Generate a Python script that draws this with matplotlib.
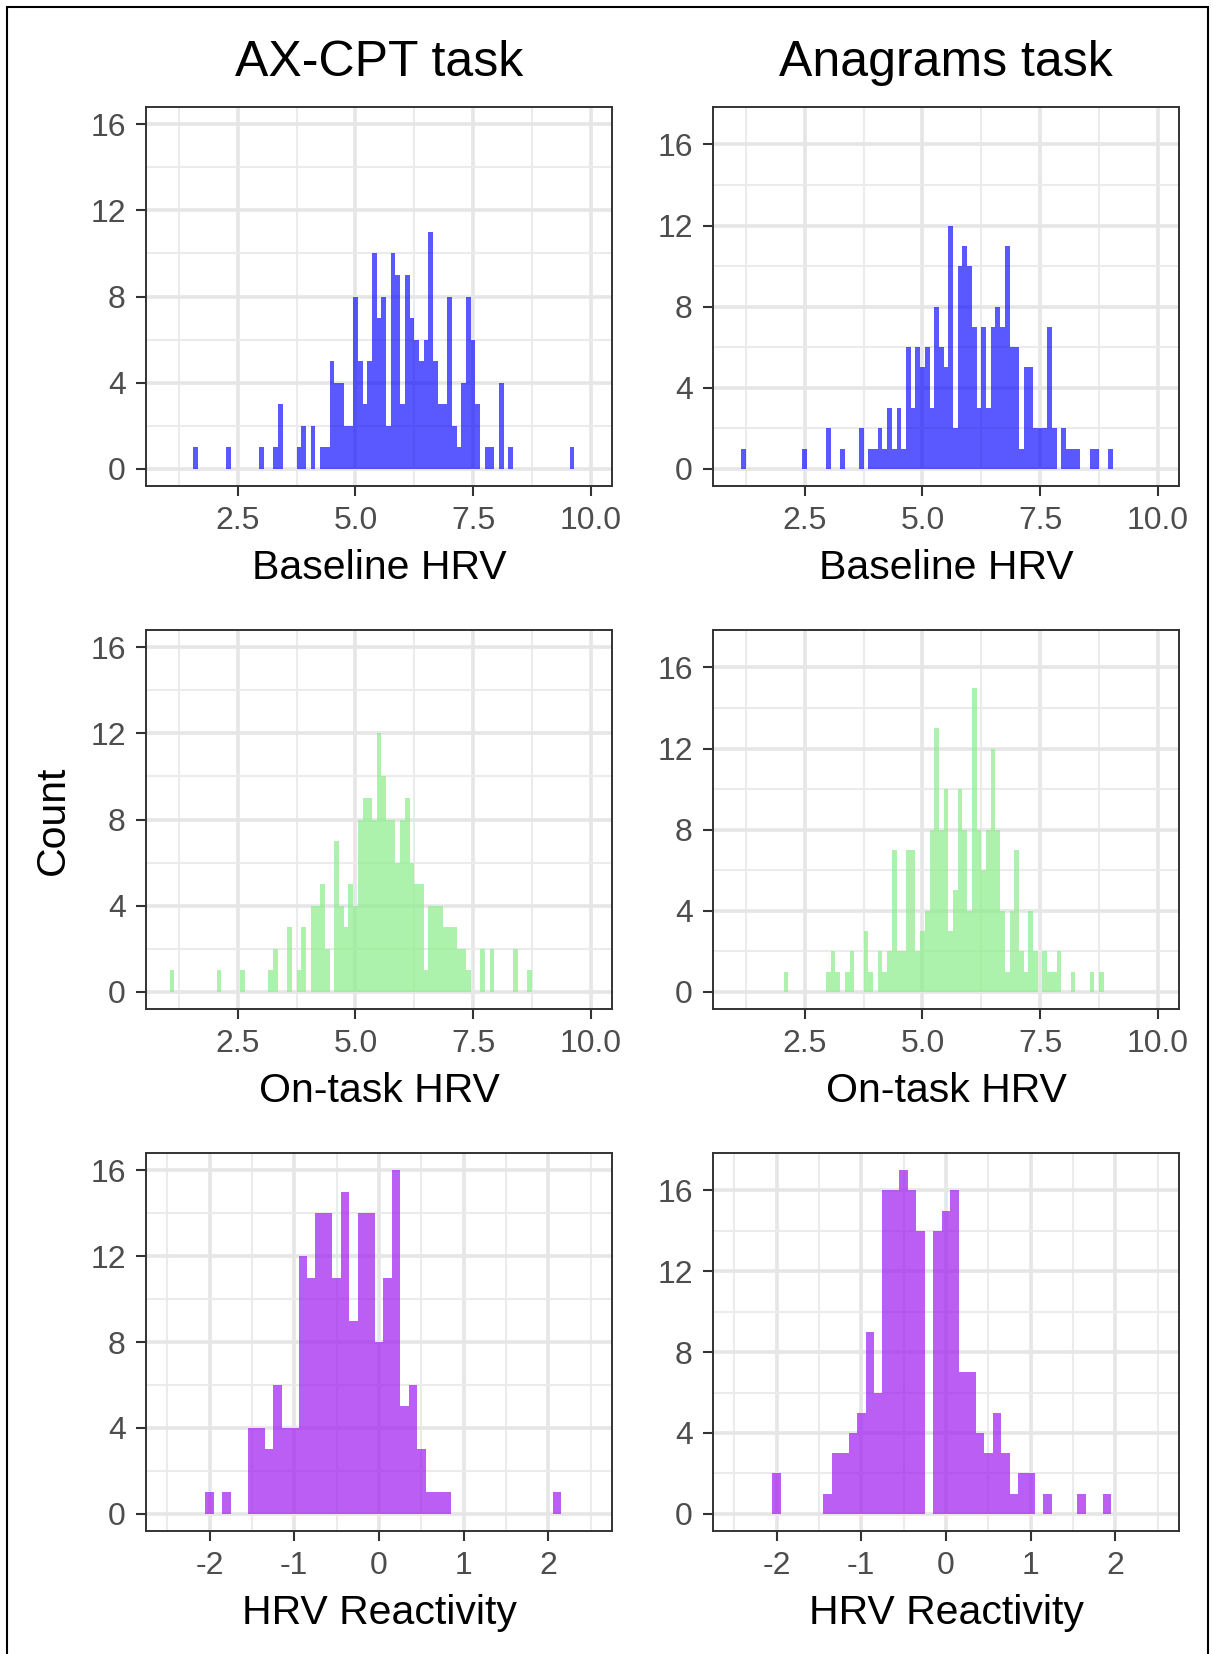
import numpy as np
import matplotlib
matplotlib.use("Agg")
import matplotlib.pyplot as plt
from matplotlib.patches import Rectangle
from matplotlib.ticker import MultipleLocator

plt.rcParams['font.family'] = ['Liberation Sans', 'DejaVu Sans']

# histogram counts, binwidth 0.1, first value = count of the bin centred on *_start
ax_base_start = 1.6
ax_base_counts = [1, 0, 0, 0, 0, 0, 0, 1, 0, 0, 0, 0, 0, 0, 1, 0, 0, 1, 3, 0,
                  0, 0, 1, 2, 0, 2, 0, 1, 1, 5, 4, 4, 2, 2, 8, 5, 3, 5, 10, 7,
                  8, 2, 10, 9, 3, 9, 7, 6, 5, 6, 11, 5, 3, 3, 8, 2, 1, 4, 8, 6,
                  3, 0, 1, 1, 0, 4, 0, 1, 0, 0, 0, 0, 0, 0, 0, 0, 0, 0, 0, 0, 1]

an_base_start = 1.2
an_base_counts = [1, 0, 0, 0, 0, 0, 0, 0, 0, 0, 0, 0, 0, 1, 0, 0, 0, 0, 2, 0,
                  0, 1, 0, 0, 0, 2, 0, 1, 1, 2, 1, 3, 1, 3, 1, 6, 3, 6, 5, 6,
                  3, 8, 6, 5, 12, 2, 10, 11, 10, 7, 3, 7, 3, 7, 8, 7, 11, 6, 6, 1,
                  5, 5, 2, 2, 2, 7, 2, 0, 2, 1, 1, 1, 0, 0, 1, 1, 0, 0, 1]

ax_task_start = 1.1
ax_task_counts = [1, 0, 0, 0, 0, 0, 0, 0, 0, 0, 1, 0, 0, 0, 0, 1, 0, 0, 0, 0,
                  0, 1, 2, 0, 0, 3, 0, 1, 3, 0, 4, 4, 5, 2, 0, 7, 4, 3, 5, 4,
                  8, 9, 9, 8, 12, 10, 8, 8, 6, 8, 9, 6, 5, 5, 1, 4, 4, 4, 3, 3,
                  3, 2, 2, 1, 0, 0, 2, 0, 2, 0, 0, 0, 0, 2, 0, 0, 1]

an_task_start = 2.1
an_task_counts = [1, 0, 0, 0, 0, 0, 0, 0, 0, 1, 2, 1, 0, 1, 2, 0, 0, 3, 1, 0,
                  2, 1, 2, 7, 2, 2, 7, 7, 2, 3, 4, 8, 13, 8, 10, 3, 5, 10, 8, 4,
                  15, 8, 6, 8, 12, 8, 4, 1, 4, 7, 2, 1, 4, 2, 0, 2, 1, 1, 2, 0,
                  0, 1, 0, 0, 0, 1, 0, 1]

ax_react_start = -2.0
ax_react_counts = [1, 0, 1, 0, 0, 4, 4, 3, 6, 4, 4, 12, 11, 14, 14, 11, 15, 9, 14, 14,
                   8, 11, 16, 5, 6, 3, 1, 1, 1, 0, 0, 0, 0, 0, 0, 0, 0, 0, 0, 0,
                   0, 1]

an_react_start = -2.0
an_react_counts = [2, 0, 0, 0, 0, 0, 1, 3, 3, 4, 5, 9, 6, 16, 16, 17, 16, 14, 0, 14,
                   15, 16, 7, 7, 4, 3, 5, 3, 1, 2, 2, 0, 1, 0, 0, 0, 1, 0, 0, 1]

col_titles = ['AX-CPT task', 'Anagrams task']
row_labels = ['Baseline HRV', 'On-task HRV', 'HRV Reactivity']
y_ticks = [0, 4, 8, 12, 16]
hrv_ticks = [2.5, 5.0, 7.5, 10.0]
react_ticks = [-2, -1, 0, 1, 2]

W, H = 1213, 1654
fig = plt.figure(figsize=(W / 100, H / 100), dpi=100)
fig.patch.set_facecolor('white')

col_x = [146, 713]
col_w = 466
row_y = [(107, 486), (630, 1009), (1153, 1531)]

panels = [
    [(ax_base_start, ax_base_counts, 'blue', 0.65),
     (an_base_start, an_base_counts, 'blue', 0.65)],
    [(ax_task_start, ax_task_counts, '#90EE90', 0.75),
     (an_task_start, an_task_counts, '#90EE90', 0.75)],
    [(ax_react_start, ax_react_counts, '#A020F0', 0.72),
     (an_react_start, an_react_counts, '#A020F0', 0.72)],
]
ytop = [16, 17]

for r in range(3):
    top, bot = row_y[r]
    for c in range(2):
        start, counts, color, alpha = panels[r][c]
        ax = fig.add_axes([col_x[c] / W, 1 - bot / H, col_w / W, (bot - top) / H])
        centers = start + 0.1 * np.arange(len(counts))
        ax.bar(centers, counts, width=0.1, color=color, alpha=alpha,
               linewidth=0, zorder=2)
        ax.set_axisbelow(True)

        if r < 2:
            ax.set_xlim(0.55, 10.45)
            ax.set_xticks(hrv_ticks)
            ax.set_xticklabels(['2.5', '5.0', '7.5', '10.0'])
            ax.xaxis.set_minor_locator(MultipleLocator(1.25))
        else:
            ax.set_xlim(-2.75, 2.75)
            ax.set_xticks(react_ticks)
            ax.set_xticklabels(['-2', '-1', '0', '1', '2'])
            ax.xaxis.set_minor_locator(MultipleLocator(0.5))
        ymax = ytop[c]
        ax.set_ylim(-0.05 * ymax, ymax * 1.05)
        ax.set_yticks(y_ticks)
        ax.yaxis.set_minor_locator(MultipleLocator(2))

        ax.grid(which='major', color='#E6E6E6', linewidth=2.6)
        ax.grid(which='minor', color='#EBEBEB', linewidth=1.5)
        ax.tick_params(which='major', length=7.5, width=1.5, color='#333333',
                       labelsize=23, labelcolor='#4D4D4D', pad=7)
        ax.tick_params(which='minor', length=0)
        for s in ax.spines.values():
            s.set_color('#333333')
            s.set_linewidth(1.4)

        cx = (col_x[c] + col_w / 2) / W
        fig.text(cx, 1 - (bot + 93) / H, row_labels[r], fontsize=29.5,
                 ha='center', va='baseline', color='black')

for c in range(2):
    cx = (col_x[c] + col_w / 2) / W
    fig.text(cx, 1 - 76 / H, col_titles[c], fontsize=36, ha='center',
             va='baseline', color='black')

fig.text(53 / W, 1 - 820 / H, 'Count', fontsize=29.5, rotation=90,
         ha='center', va='center', color='black')

# frame around the whole figure
fig.patches.append(Rectangle((7 / W, -0.05), (1208 - 7) / W, 1.05 - 7 / H,
                             transform=fig.transFigure, fill=False,
                             edgecolor='black', linewidth=1.5))

fig.savefig('out.png', dpi=100, facecolor='white')
